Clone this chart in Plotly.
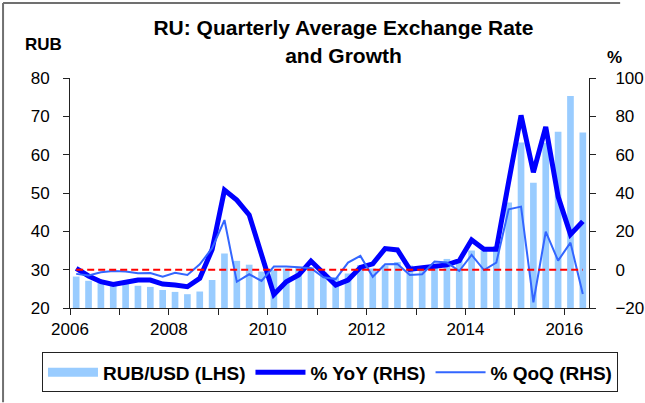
import plotly.graph_objects as go

# quarters 2006Q1 .. 2016Q2
quarters = [f"{y}Q{q}" for y in range(2006, 2017) for q in range(1, 5)][:42]

rub_usd = [28.2, 27.1, 26.7, 26.5,
           26.3, 25.8, 25.5, 24.7,
           24.2, 23.6, 24.3, 27.3,
           34.2, 32.3, 31.3, 29.5,
           29.9, 30.3, 30.6, 30.7,
           29.3, 28.0, 29.0, 31.2,
           30.3, 31.1, 32.0, 31.1,
           30.4, 31.6, 32.8, 32.5,
           35.0, 35.0, 36.2, 47.5,
           63.2, 52.7, 63.1, 66.0,
           75.3, 65.8]

yoy = [0.7, -3.3, -6.3, -7.7,
       -6.6, -5.4, -5.4, -7.5,
       -8.0, -8.9, -4.5, 10.5,
       41.5, 36.3, 28.6, 8.3,
       -13.0, -6.3, -2.8, 4.5,
       -2.0, -8.0, -5.4, 1.2,
       3.0, 11.0, 10.3, 0.2,
       1.0, 2.0, 2.5, 4.7,
       15.5, 10.6, 10.6, 45.9,
       80.5, 50.8, 74.5, 38.1,
       18.4, 25.2]

qoq = [-2.2, -3.0, -1.4, -0.7,
       -0.9, -1.9, -1.7, -3.7,
       -1.6, -2.8, 2.8, 11.2,
       25.9, -6.3, -2.4, -5.9,
       1.6, 1.6, 1.2, 0.8,
       -4.0, -4.9, 3.7, 7.2,
       -3.7, 2.8, 3.0, -2.8,
       -2.4, 4.2, 3.7, -0.7,
       7.7, -0.2, 3.7, 31.5,
       32.9, -17.0, 19.8, 4.7,
       14.1, -12.7]

year_ticks = list(range(2006, 2017))
year_labels = [str(y) if y % 2 == 0 else "" for y in year_ticks]


def q_pos(label):
    # mid point of the quarter on a numeric year axis
    return int(label[:4]) + (int(label[-1]) - 0.5) / 4


x = [q_pos(q) for q in quarters]

FONT = "Liberation Sans, Arial, sans-serif"
BAR_COL = "#99ccff"

fig = go.Figure()

fig.add_trace(go.Bar(x=x, y=rub_usd, marker_color=BAR_COL, marker_line_width=0,
                     name="RUB/USD (LHS)", showlegend=False, yaxis="y"))
# legend proxy so the bar swatch is a wide strip
fig.add_trace(go.Scatter(x=[None], y=[None], mode="lines", name="RUB/USD (LHS)",
                         line=dict(color=BAR_COL, width=9), yaxis="y"))
fig.add_trace(go.Scatter(x=x, y=yoy, mode="lines", name="% YoY (RHS)",
                         line=dict(color="#0000ff", width=5), yaxis="y2"))
fig.add_trace(go.Scatter(x=x, y=qoq, mode="lines", name="% QoQ (RHS)",
                         line=dict(color="#3366ff", width=2), yaxis="y2"))

# zero line on the right axis, first to last quarter
fig.add_shape(type="line", xref="x", yref="y2", x0=x[0], x1=x[-1], y0=0, y1=0,
              line=dict(color="#ff0000", width=2, dash="7px,4px"))

# outer frame (left and top edges visible in the reference)
fig.add_shape(type="line", xref="paper", yref="paper", x0=-0.129, x1=-0.129,
              y0=-0.41, y1=1.326, line=dict(color="#707070", width=2))
fig.add_shape(type="line", xref="paper", yref="paper", x0=-0.129, x1=1.06,
              y0=1.326, y1=1.326, line=dict(color="#707070", width=2))

fig.add_annotation(text="<b>RUB</b>", xref="paper", yref="paper", x=-0.052, y=1.145,
                   xanchor="center", yanchor="middle", showarrow=False,
                   font=dict(family=FONT, size=17, color="black"))
fig.add_annotation(text="<b>%</b>", xref="paper", yref="paper", x=1.050, y=1.087,
                   xanchor="center", yanchor="middle", showarrow=False,
                   font=dict(family=FONT, size=17, color="black"))

axis_font = dict(family=FONT, size=17, color="black")

fig.update_layout(
    width=645, height=403,
    margin=dict(l=70, r=56, t=78, b=95, autoexpand=False),
    paper_bgcolor="white", plot_bgcolor="white",
    bargap=0.46,
    title=dict(text="<b>RU: Quarterly Average Exchange Rate<br>and Growth</b>",
               x=0.527, xref="paper", xanchor="center",
               y=0.912, yref="container", yanchor="top",
               font=dict(family=FONT, size=21, color="black")),
    xaxis=dict(range=[2006, 2016.5], tickvals=year_ticks, ticktext=year_labels,
               showgrid=False, zeroline=False, showline=True, linecolor="#222",
               linewidth=1, ticks="outside", ticklen=6, tickcolor="#222",
               tickfont=axis_font),
    yaxis=dict(range=[20, 80], dtick=10, showgrid=False, zeroline=False,
               showline=True, linecolor="#222", linewidth=1, ticks="outside",
               ticklen=6, tickcolor="#222", tickfont=axis_font,
               ticklabelstandoff=10),
    yaxis2=dict(range=[-20, 100], dtick=20, overlaying="y", side="right",
                showgrid=False, zeroline=False, showline=True, linecolor="#222",
                linewidth=1, ticks="outside", ticklen=6, tickcolor="#222",
                tickfont=axis_font, ticklabelstandoff=16),
    legend=dict(orientation="h", x=-0.054, xanchor="left", y=-0.193, yanchor="top",
                bordercolor="#222", borderwidth=1, bgcolor="white",
                font=dict(family=FONT, size=19, color="black", weight="bold"),
                itemwidth=50, traceorder="normal"),
)

# the page body has an 8px margin by default; drop it so the figure sits at 0,0
fig.write_html("out.html", config={"displayModeBar": False},
               post_script="document.body.style.margin='0';")
